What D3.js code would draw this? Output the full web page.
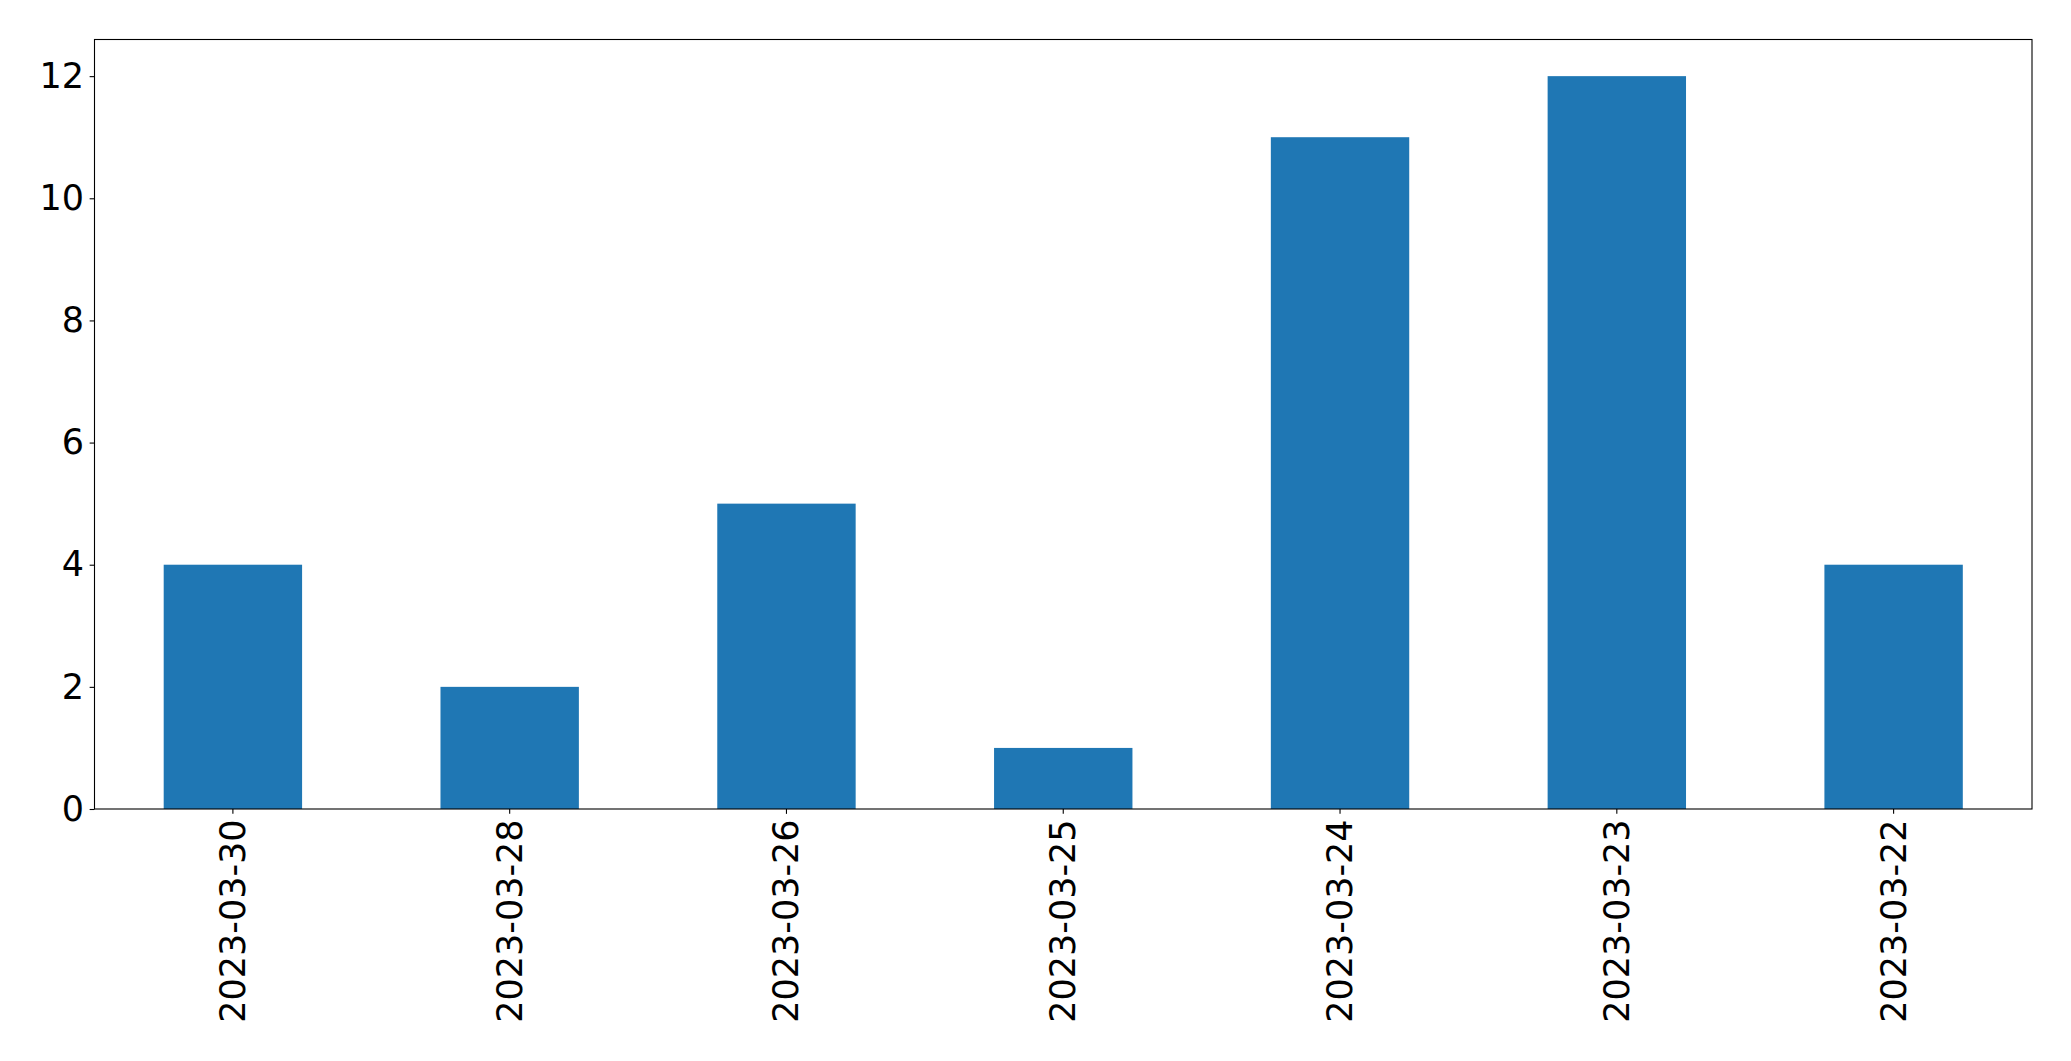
<!DOCTYPE html>
<html>
<head>
<meta charset="utf-8">
<script src="https://cdn.jsdelivr.net/npm/d3@7"></script>
<style>
  html, body { margin: 0; padding: 0; background: #fff; }
  svg { display: block; }
  text { font-family: "DejaVu Sans", sans-serif; }
</style>
</head>
<body>
<svg id="chart" width="2071" height="1061"></svg>
<script>
const categories = ["2023-03-30", "2023-03-28", "2023-03-26", "2023-03-25", "2023-03-24", "2023-03-23", "2023-03-22"];
const values = [4, 2, 5, 1, 11, 12, 4];
const yTicks = [0, 2, 4, 6, 8, 10, 12];

const W = 2071, H = 1061;
const margin = { left: 94.5, right: W - 2032, top: 39.5, bottom: H - 809 };
const svg = d3.select("#chart");
const g = svg.append("g");

const x = d3.scaleBand()
  .domain(categories)
  .range([margin.left, W - margin.right])
  .paddingInner(0.5)
  .paddingOuter(0.25);

const y = d3.scaleLinear()
  .domain([0, 12.6])
  .range([H - margin.bottom, margin.top]);

g.selectAll("rect.bar")
  .data(values)
  .enter().append("rect")
  .attr("class", "bar")
  .attr("x", (d, i) => x(categories[i]))
  .attr("width", x.bandwidth())
  .attr("y", d => y(d))
  .attr("height", d => y(0) - y(d))
  .attr("fill", "#1f77b4");

const tickLen = 4.86, pad = 5.5, fs = 35;

// Y axis
const yAxis = g.append("g")
  .attr("transform", `translate(${margin.left},0)`)
  .call(d3.axisLeft(y).tickValues(yTicks).tickSize(tickLen).tickPadding(pad).tickFormat(d3.format("d")));
yAxis.select(".domain").remove();
yAxis.selectAll("line").attr("stroke", "#000").attr("stroke-width", 1.1);
yAxis.selectAll("text").attr("font-size", fs).attr("fill", "#000").attr("font-family", "DejaVu Sans");

// X axis
const xAxis = g.append("g")
  .attr("transform", `translate(0,${H - margin.bottom})`)
  .call(d3.axisBottom(x).tickSize(tickLen).tickPadding(pad));
xAxis.select(".domain").remove();
xAxis.selectAll("line").attr("stroke", "#000").attr("stroke-width", 1.1);
xAxis.selectAll("text")
  .attr("font-size", fs)
  .attr("fill", "#000")
  .attr("font-family", "DejaVu Sans")
  .attr("y", null)
  .attr("dy", null)
  .attr("x", null)
  .attr("text-anchor", "end")
  .attr("dominant-baseline", "central")
  .attr("transform", `translate(0,${tickLen + pad}) rotate(-90)`);

// Frame (spines)
g.append("rect")
  .attr("x", margin.left)
  .attr("y", margin.top)
  .attr("width", W - margin.right - margin.left)
  .attr("height", H - margin.bottom - margin.top)
  .attr("fill", "none")
  .attr("stroke", "#000")
  .attr("stroke-width", 1.1);
</script>
</body>
</html>
